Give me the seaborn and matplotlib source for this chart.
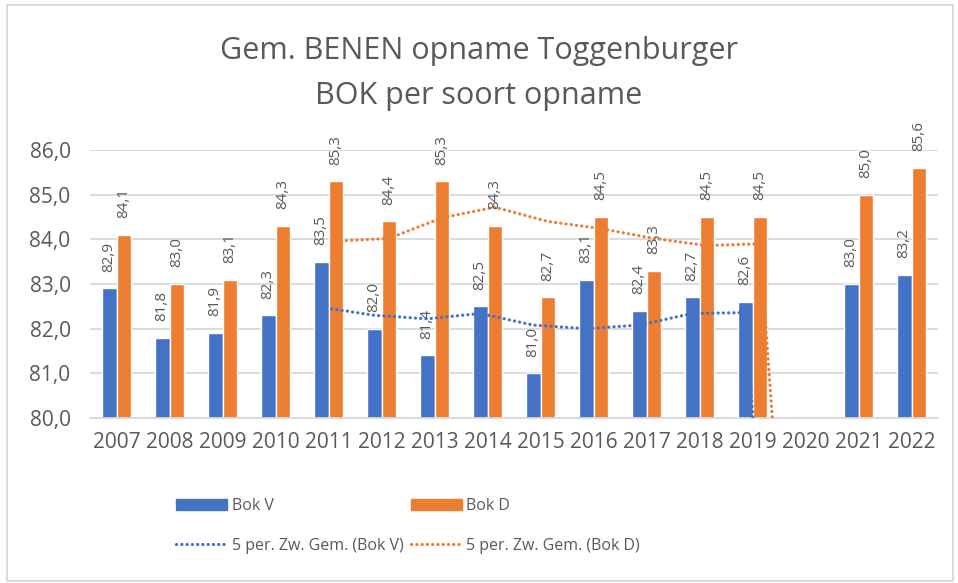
import numpy as np
import pandas as pd
import matplotlib
matplotlib.use("Agg")
import matplotlib.pyplot as plt
from matplotlib.patches import Rectangle, Patch
from matplotlib.lines import Line2D
import seaborn as sns

# data
years = ["2007", "2008", "2009", "2010", "2011", "2012", "2013", "2014",
         "2015", "2016", "2017", "2018", "2019", "2020", "2021", "2022"]
bok_v = [82.9, 81.8, 81.9, 82.3, 83.5, 82.0, 81.4, 82.5,
         81.0, 83.1, 82.4, 82.7, 82.6, np.nan, 83.0, 83.2]
bok_d = [84.1, 83.0, 83.1, 84.3, 85.3, 84.4, 85.3, 84.3,
         82.7, 84.5, 83.3, 84.5, 84.5, np.nan, 85.0, 85.6]
# 5 period moving averages (Excel trendline), 2020 counted as 0 -> drops off the chart
ma_v = [np.nan, np.nan, np.nan, np.nan, 82.48, 82.30, 82.22, 82.34,
        82.08, 82.00, 82.08, 82.34, 82.36, 66.2, np.nan, np.nan]
ma_d = [np.nan, np.nan, np.nan, np.nan, 83.96, 84.02, 84.48, 84.72,
        84.40, 84.24, 84.02, 83.86, 83.90, 67.4, np.nan, np.nan]

series = ["Bok V", "Bok D"]
colors = ["#4472C4", "#ED7D31"]
text_col = "#595959"
grid_col = "#D9D9D9"

df = pd.DataFrame({
    "jaar": years * 2,
    "waarde": bok_v + bok_d,
    "serie": ["Bok V"] * len(years) + ["Bok D"] * len(years),
})

sns.set_theme(style="white")
plt.rcParams["font.family"] = ["Open Sans", "DejaVu Sans"]

fig = plt.figure(figsize=(9.58, 5.83), dpi=100)
ax = fig.add_axes([90 / 958, 1 - 418 / 583, 848 / 958, 268 / 583])

bar_w = 0.55
sns.barplot(data=df, x="jaar", y="waarde", hue="serie", order=years,
            hue_order=series, palette=colors, saturation=1, width=bar_w,
            dodge=True, edgecolor="white", linewidth=1, errorbar=None,
            legend=False, ax=ax, zorder=2)

ax.set_ylim(80, 86)
ax.set_xlim(-0.5, len(years) - 0.5)
ax.set_yticks(np.arange(80, 86.1, 1))
ax.set_yticklabels([f"{v:.1f}".replace(".", ",") for v in np.arange(80, 86.1, 1)])
ax.yaxis.grid(True, color=grid_col, linewidth=1.3, zorder=0)
ax.set_axisbelow(True)
for s in ["top", "right", "left"]:
    ax.spines[s].set_visible(False)
ax.spines["bottom"].set_color(grid_col)
ax.spines["bottom"].set_linewidth(1.3)
ax.tick_params(axis="both", length=0, labelsize=15, labelcolor=text_col)
ax.tick_params(axis="y", pad=14)
ax.tick_params(axis="x", pad=10)
ax.set_xlabel("")
ax.set_ylabel("")

off = bar_w / 4
x = np.arange(len(years))
dot = dict(linestyle=(0, (0.05, 1.6)), dash_capstyle="round", linewidth=2.3)
ax.plot(x - off, ma_v, color=colors[0], zorder=4, **dot)
ax.plot(x + off, ma_d, color=colors[1], zorder=4, **dot)

# data labels
for vals, sign in [(bok_v, -1), (bok_d, 1)]:
    for i, v in enumerate(vals):
        if np.isnan(v):
            continue
        ax.annotate(f"{v:.1f}".replace(".", ","), (i + sign * off, v),
                    xytext=(0, 12), textcoords="offset points",
                    rotation=90, ha="center", va="bottom",
                    fontsize=11, color=text_col, clip_on=False, zorder=5)

fig.text(0.5, 1 - 51 / 583, "Gem. BENEN opname Toggenburger", ha="center",
         va="center", fontsize=22, color=text_col)
fig.text(0.5, 1 - 96 / 583, "BOK per soort opname", ha="center",
         va="center", fontsize=22, color=text_col)

handles = [Patch(color=colors[0]),
           Line2D([], [], color=colors[0], **dot),
           Patch(color=colors[1]),
           Line2D([], [], color=colors[1], **dot)]
labels = ["Bok V", "5 per. Zw. Gem. (Bok V)", "Bok D", "5 per. Zw. Gem. (Bok D)"]
leg = fig.legend(handles, labels, ncol=2, loc="center",
                 bbox_to_anchor=(408 / 958, 1 - 526 / 583), frameon=False,
                 fontsize=11.5, handlelength=3.2, handletextpad=0.3,
                 columnspacing=0.45, labelspacing=1.5, borderpad=0)
for t in leg.get_texts():
    t.set_color(text_col)

fig.patches.append(Rectangle((7 / 958, 2 / 583), 946 / 958, 576 / 583,
                             transform=fig.transFigure, fill=False,
                             edgecolor=grid_col, linewidth=1.3))

fig.savefig("out.png", dpi=100)
